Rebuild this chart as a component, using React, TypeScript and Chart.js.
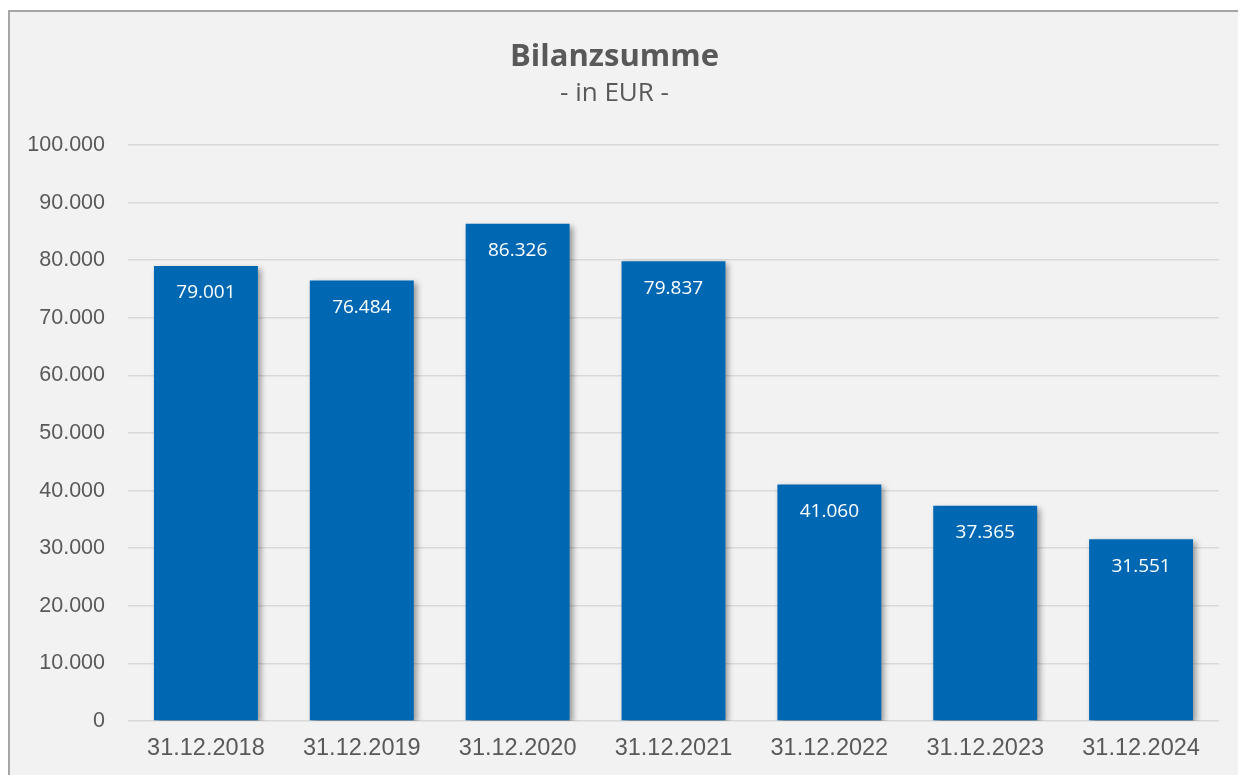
import React, { useEffect, useRef } from "react";
import { Chart, registerables } from "chart.js";

Chart.register(...registerables);

const categories = [
  "31.12.2018",
  "31.12.2019",
  "31.12.2020",
  "31.12.2021",
  "31.12.2022",
  "31.12.2023",
  "31.12.2024",
];
const values = [79001, 76484, 86326, 79837, 41060, 37365, 31551];
const titleText = "Bilanzsumme";
const subtitleText = "- in EUR -";
const yMax = 100000;
const yStep = 10000;

const fmt = (v: number) =>
  String(Math.round(v)).replace(/\B(?=(\d{3})+(?!\d))/g, ".");

const shadowPlugin = {
  id: "barShadow",
  beforeDatasetsDraw(chart: any) {
    const ctx = chart.ctx;
    ctx.save();
    ctx.shadowColor = "rgba(0,0,0,0.38)";
    ctx.shadowBlur = 6;
    ctx.shadowOffsetX = 3;
    ctx.shadowOffsetY = 3;
  },
  afterDatasetsDraw(chart: any) {
    chart.ctx.restore();
  },
};

const labelPlugin = {
  id: "barLabels",
  afterDraw(chart: any) {
    const ctx = chart.ctx;
    const meta = chart.getDatasetMeta(0);
    ctx.save();
    ctx.fillStyle = "#ffffff";
    ctx.font = '19px "Open Sans"';
    ctx.textAlign = "center";
    ctx.textBaseline = "middle";
    meta.data.forEach((bar: any, i: number) => {
      const v = chart.data.datasets[0].data[i];
      ctx.fillText(fmt(v), bar.x, bar.y + 27);
    });
    ctx.restore();
  },
};

export default function App() {
  const ref = useRef<HTMLCanvasElement | null>(null);
  useEffect(() => {
    document.body.style.overflow = "hidden";
    if (!ref.current) return;
    const chart = new Chart(ref.current, {
      type: "bar",
      data: {
        labels: categories,
        datasets: [
          {
            data: values,
            backgroundColor: "#0068B3",
            borderWidth: 0,
            barPercentage: 0.667,
            categoryPercentage: 1,
          },
        ],
      },
      options: {
        animation: false,
        responsive: false,
        maintainAspectRatio: false,
        layout: { padding: { left: 0, right: 27, top: 0, bottom: 0 } },
        plugins: {
          legend: { display: false },
          tooltip: { enabled: false },
          title: {
            display: true,
            text: titleText,
            color: "#595959",
            font: { family: "Open Sans", size: 31, weight: "bold", lineHeight: 1.2 },
            padding: { top: 27, bottom: 2 },
          },
          subtitle: {
            display: true,
            text: subtitleText,
            color: "#595959",
            font: { family: "Open Sans", size: 26, lineHeight: 1.2 },
            padding: { top: 0, bottom: 35.6 },
          },
        },
        scales: {
          x: {
            grid: { display: false, drawTicks: false },
            border: { display: false },
            ticks: {
              color: "#595959",
              font: { family: "Liberation Sans", size: 23.5 },
              padding: 13,
              maxRotation: 0,
            },
            afterFit(scale: any) {
              scale.height = 54;
            },
          },
          y: {
            min: 0,
            max: yMax,
            grid: { color: "#d9d9d9", lineWidth: 1.5, drawTicks: false },
            border: { display: false },
            ticks: {
              stepSize: yStep,
              color: "#595959",
              font: { family: "Liberation Sans", size: 21.5 },
              padding: 23,
              callback: (v: any) => fmt(Number(v)),
            },
            afterFit(scale: any) {
              scale.width = 118;
            },
          },
        },
      },
      plugins: [shadowPlugin, labelPlugin],
    });
    return () => chart.destroy();
  }, []);
  return (
    <div style={{ paddingTop: 2 }}>
      <div
        style={{
          width: 1238,
          height: 765,
          boxSizing: "border-box",
          background: "#f2f2f2",
          borderLeft: "2px solid #a6a6a6",
          borderTop: "2px solid #a6a6a6",
          overflow: "hidden",
        }}
      >
        <canvas ref={ref} width={1236} height={763} style={{ display: "block" }} />
      </div>
    </div>
  );
}
